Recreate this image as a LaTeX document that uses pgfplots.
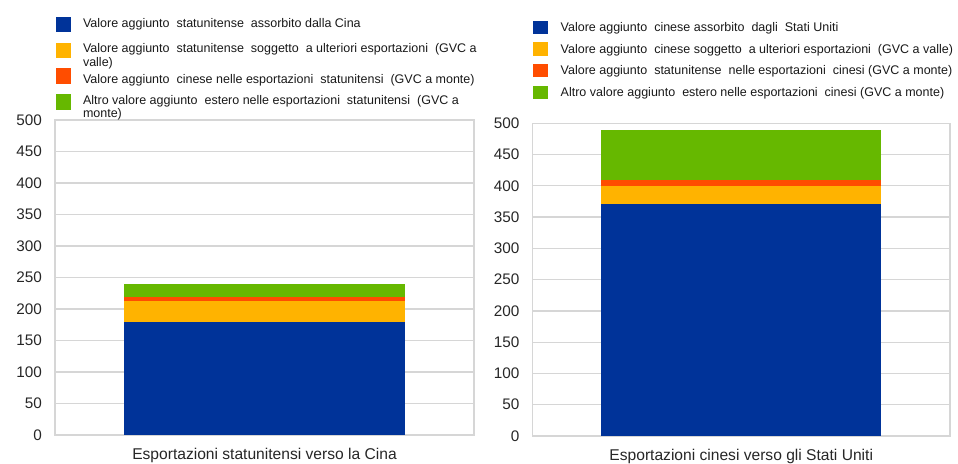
\documentclass[border=0pt]{standalone}
\usepackage{pgfplots}
\pgfplotsset{compat=1.18}
\usepackage{fontspec}
\setmainfont{Liberation Sans}

\definecolor{cBlue}{RGB}{0,51,153}
\definecolor{cOrange}{RGB}{255,179,0}
\definecolor{cRed}{RGB}{255,77,0}
\definecolor{cGreen}{RGB}{102,184,0}
\definecolor{gridgray}{RGB}{214,214,214}

% legend text without height or depth, optionally shifted
\newcommand\lt[2][0pt]{\raisebox{#1}[0pt][0pt]{#2}}
\newcommand\two[2]{\lt{\parbox[t]{420pt}{\baselineskip=13.5pt #1\\#2}}}

\pgfplotsset{
  panel/.style={
    scale only axis,
    ybar stacked,
    bar width=1,
    xmin=-0.7456, xmax=0.7456,
    ymin=0, ymax=500,
    ytick={0,50,...,500},
    xtick={0},
    major tick length=0pt,
    ymajorgrids,
    grid style={gridgray, line width=1.3pt},
    axis line style={gridgray, line width=1.3pt},
    tick label style={font=\fontsize{15.3}{18}\selectfont, text=black!85},
    yticklabel style={inner sep=0pt, xshift=-13pt},
    xticklabel style={inner sep=0pt, anchor=north, yshift=-13.3pt,
      font=\fontsize{15.6}{18}\selectfont},
    /pgf/number format/assume math mode=true,
    legend cell align=left,
    legend style={draw=none, fill=none, inner sep=0pt, outer sep=0pt,
      column sep=0pt, text=black!90,
      font=\fontsize{12.5}{13.5}\selectfont,
      nodes={inner sep=0pt, outer sep=0pt, text depth=0pt, anchor=west}},
  },
  sqL/.style={draw=none, legend image code/.code={%
      \fill[##1] (0pt,-5.2pt) rectangle (15.6pt,10.3pt);
      \path (27.3pt,0pt);}},
  sqR/.style={draw=none, legend image code/.code={%
      \fill[##1] (0pt,-2.5pt) rectangle (15.6pt,10.8pt);
      \path (28pt,0pt);}},
}

\begin{document}
\begin{tikzpicture}
\useasboundingbox (0pt,0pt) rectangle (958pt,463pt);

% US exports to China
\begin{axis}[panel,
  at={(55pt,28pt)}, anchor=south west,
  width=419pt, height=315pt,
  xticklabels={Esportazioni statunitensi verso la Cina},
  legend style={at={(0,1)}, anchor=north west, xshift=0.7pt, yshift=103.3pt,
    row sep=10.3pt},
]
\addplot[sqL, fill=cBlue]   coordinates {(0,180)};
\addlegendentry{\lt[-0.5pt]{Valore aggiunto\ \ statunitense\ \ assorbito dalla Cina}}
\addplot[sqL, fill=cOrange] coordinates {(0,32)};
\addlegendentry{\two{Valore aggiunto\ \ statunitense\ \ soggetto\ \ a ulteriori esportazioni\ \ (GVC a}{valle)}}
\addplot[sqL, fill=cRed]    coordinates {(0,7)};
\addlegendentry{\lt[-4.6pt]{Valore aggiunto\ \ cinese nelle esportazioni\ \ statunitensi\ \ (GVC a monte)}}
\addplot[sqL, fill=cGreen]  coordinates {(0,20)};
\addlegendentry{\two{Altro valore aggiunto\ \ estero nelle esportazioni\ \ statunitensi\ \ (GVC a}{monte)}}
\end{axis}

% Chinese exports to the US
\begin{axis}[panel,
  at={(532.5pt,27pt)}, anchor=south west,
  width=417.5pt, height=312.7pt,
  xticklabels={Esportazioni cinesi verso gli Stati Uniti},
  legend style={at={(0,1)}, anchor=north west, xshift=0.2pt, yshift=102.4pt,
    row sep=8.3pt},
]
\addplot[sqR, fill=cBlue]   coordinates {(0,371)};
\addlegendentry{\lt{Valore aggiunto\ \ cinese assorbito\ \ dagli\ \ Stati Uniti}}
\addplot[sqR, fill=cOrange] coordinates {(0,29)};
\addlegendentry{\lt{Valore aggiunto\ \ cinese soggetto\ \ a ulteriori esportazioni\ \ (GVC a valle)}}
\addplot[sqR, fill=cRed]    coordinates {(0,10)};
\addlegendentry{\lt{Valore aggiunto\ \ statunitense\ \ nelle esportazioni\ \ cinesi (GVC a monte)}}
\addplot[sqR, fill=cGreen]  coordinates {(0,79)};
\addlegendentry{\lt{Altro valore aggiunto\ \ estero nelle esportazioni\ \ cinesi (GVC a monte)}}
\end{axis}
\end{tikzpicture}
\end{document}
